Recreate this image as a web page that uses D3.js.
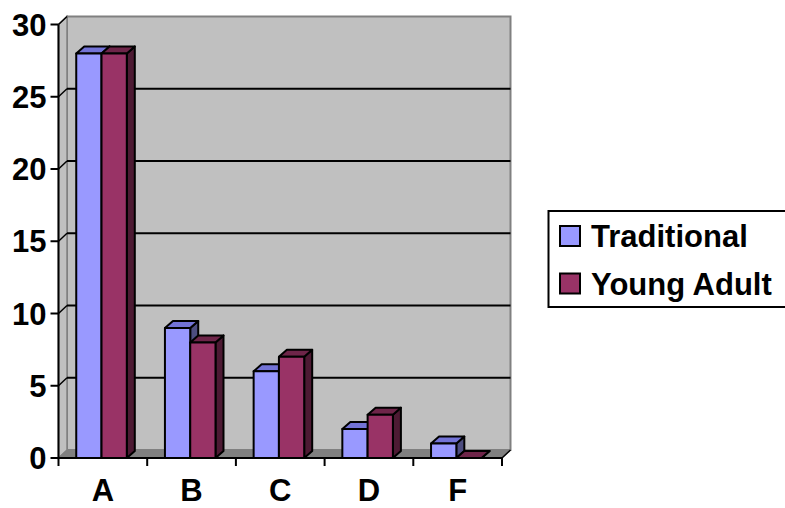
<!DOCTYPE html>
<html>
<head>
<meta charset="utf-8">
<script src="https://cdn.jsdelivr.net/npm/d3@7/dist/d3.min.js"></script>
<style>
  html, body { margin: 0; padding: 0; background: #fff; }
  svg { display: block; }
  text { font-family: "Liberation Sans", Arial, sans-serif; font-weight: bold; fill: #000; }
</style>
</head>
<body>
<svg id="chart" width="785" height="508"></svg>
<script>
// Grade counts by reading group
const categories = ["A", "B", "C", "D", "F"];
const seriesNames = ["Traditional", "Young Adult"];
const traditional = [28, 9, 6, 2, 1];
const youngAdult = [28, 8, 7, 3, 0];
const yTicks = [0, 5, 10, 15, 20, 25, 30];

const colors = {
  "Traditional": { front: "#9999ff", top: "#7373d6", side: "#4d4d80" },
  "Young Adult": { front: "#993366", top: "#6e2549", side: "#4d1a33" }
};

const fontSize = 31;
const svg = d3.select("#chart");

// Plot frame: front plane and the depth offset of the 3D box
const pLeft = 58.5, pRight = 502, pBottom = 458, pTop = 24.5;
const wdx = 8.5, wdy = 8;   // wall depth
const bdx = 8, bdy = 7;     // bar depth

const y = d3.scaleLinear().domain([0, 30]).range([pBottom, pTop]);
const x0 = d3.scaleBand().domain(categories).range([pLeft, pRight]).padding(0);
const bw = x0.bandwidth();
const barW = bw * 0.285;
const barOff = bw * 0.2;
const x1 = d3.scaleBand().domain(seriesNames).range([barOff, barOff + 2 * barW]).padding(0);

const poly = pts => pts.map(p => p.join(",")).join(" ");

// Back wall
svg.append("rect")
  .attr("x", pLeft + wdx).attr("y", pTop - wdy)
  .attr("width", pRight - pLeft).attr("height", pBottom - pTop)
  .attr("fill", "#c0c0c0").attr("stroke", "#808080").attr("stroke-width", 2);

// Left side wall
svg.append("polygon")
  .attr("points", poly([[pLeft, pTop], [pLeft + wdx, pTop - wdy], [pLeft + wdx, pBottom - wdy], [pLeft, pBottom]]))
  .attr("fill", "#c0c0c0").attr("stroke", "#808080").attr("stroke-width", 1.5);

// Floor
svg.append("polygon")
  .attr("points", poly([[pLeft, pBottom], [pLeft + wdx, pBottom - wdy], [pRight + wdx, pBottom - wdy], [pRight, pBottom]]))
  .attr("fill", "#808080").attr("stroke", "#808080").attr("stroke-width", 1);

// Gridlines on back wall and left wall
const grid = yTicks.filter(t => t > 0 && t < 30);
svg.append("g").selectAll("line").data(grid).join("line")
  .attr("x1", pLeft + wdx).attr("x2", pRight + wdx)
  .attr("y1", d => y(d) - wdy).attr("y2", d => y(d) - wdy)
  .attr("stroke", "#000").attr("stroke-width", 2);
svg.append("g").selectAll("line").data(grid).join("line")
  .attr("x1", pLeft).attr("x2", pLeft + wdx)
  .attr("y1", d => y(d)).attr("y2", d => y(d) - wdy)
  .attr("stroke", "#000").attr("stroke-width", 1.5);

// Bars drawn as boxes: side, top, front
const rows = categories.map((c, i) => ({
  cat: c,
  vals: [
    { name: "Traditional", v: traditional[i] },
    { name: "Young Adult", v: youngAdult[i] }
  ]
}));

const barG = svg.append("g");
rows.forEach(r => {
  r.vals.forEach(d => {
    const xs = x0(r.cat) + x1(d.name);
    const yv = y(d.v), y0 = y(0);
    const c = colors[d.name];
    const g = barG.append("g")
      .attr("stroke", "#000").attr("stroke-width", 2).attr("stroke-linejoin", "round");
    g.append("polygon")
      .attr("points", poly([[xs + barW, yv], [xs + barW + bdx, yv - bdy], [xs + barW + bdx, y0 - bdy], [xs + barW, y0]]))
      .attr("fill", c.side);
    g.append("polygon")
      .attr("points", poly([[xs, yv], [xs + bdx, yv - bdy], [xs + barW + bdx, yv - bdy], [xs + barW, yv]]))
      .attr("fill", c.top);
    if (d.v > 0) {
      g.append("rect")
        .attr("x", xs).attr("y", yv).attr("width", barW).attr("height", y0 - yv)
        .attr("fill", c.front);
    }
  });
});

// Value axis
const axG = svg.append("g");
axG.append("line").attr("x1", pLeft).attr("x2", pLeft).attr("y1", pTop).attr("y2", pBottom)
  .attr("stroke", "#000").attr("stroke-width", 2);
axG.append("line").attr("x1", pLeft).attr("x2", pLeft + wdx).attr("y1", pTop).attr("y2", pTop - wdy)
  .attr("stroke", "#000").attr("stroke-width", 1.5);
axG.selectAll("line.tick").data(yTicks).join("line")
  .attr("class", "tick")
  .attr("x1", pLeft - 8).attr("x2", pLeft)
  .attr("y1", d => y(d)).attr("y2", d => y(d))
  .attr("stroke", "#000").attr("stroke-width", 2);
axG.selectAll("text").data(yTicks).join("text")
  .attr("x", pLeft - 12).attr("y", d => y(d))
  .attr("dy", "0.36em")
  .attr("text-anchor", "end")
  .attr("font-size", fontSize)
  .text(d => d);

// Category axis
const cxG = svg.append("g");
cxG.append("line").attr("x1", pLeft).attr("x2", pRight).attr("y1", pBottom).attr("y2", pBottom)
  .attr("stroke", "#000").attr("stroke-width", 2);
cxG.append("line").attr("x1", pRight).attr("x2", pRight + wdx).attr("y1", pBottom).attr("y2", pBottom - wdy)
  .attr("stroke", "#000").attr("stroke-width", 1.5);
const bounds = categories.map(c => x0(c)).concat([pRight]);
cxG.selectAll("line.tick").data(bounds).join("line")
  .attr("class", "tick")
  .attr("x1", d => d).attr("x2", d => d)
  .attr("y1", pBottom).attr("y2", pBottom + 8)
  .attr("stroke", "#000").attr("stroke-width", 2);
cxG.selectAll("text").data(categories).join("text")
  .attr("x", d => x0(d) + bw / 2)
  .attr("y", 501)
  .attr("text-anchor", "middle")
  .attr("font-size", fontSize)
  .text(d => d);

// Legend
const lg = svg.append("g");
lg.append("rect")
  .attr("x", 548.5).attr("y", 211).attr("width", 250).attr("height", 96)
  .attr("fill", "#fff").attr("stroke", "#000").attr("stroke-width", 2);
seriesNames.forEach((n, i) => {
  const yy = 226 + i * 47.5;
  lg.append("rect")
    .attr("x", 560).attr("y", yy).attr("width", 20).attr("height", 20)
    .attr("fill", colors[n].front).attr("stroke", "#000").attr("stroke-width", 2);
  lg.append("text")
    .attr("x", 591).attr("y", yy + 21)
    .attr("font-size", fontSize)
    .text(n);
});
</script>
</body>
</html>
